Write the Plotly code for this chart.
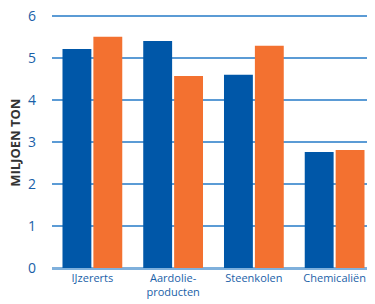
import plotly.graph_objects as go

categories = ["IJzererts", "Aardolie-<br>producten", "Steenkolen", "Chemicaliën"]
series_blue = [5.21, 5.40, 4.60, 2.76]
series_orange = [5.50, 4.57, 5.29, 2.81]
y_ticks = [0, 1, 2, 3, 4, 5, 6]

fig = go.Figure()
fig.add_trace(go.Bar(x=categories, y=series_blue, marker=dict(color="#0057a8", line=dict(width=0)), showlegend=False))
fig.add_trace(go.Bar(x=categories, y=series_orange, marker=dict(color="#f37130", line=dict(width=0)), showlegend=False))

# page body has an 8px default margin, so the figure is sized to fit the window
fig.update_layout(
    width=367, height=296,
    margin=dict(l=44, r=0, t=4, b=36),
    plot_bgcolor="white", paper_bgcolor="white",
    barmode="group", bargap=0.235, bargroupgap=0.065,
    font=dict(family="Open Sans, sans-serif"),
    xaxis=dict(showgrid=False, showline=False, ticks="", tickfont=dict(size=11, color="#1a5fa8"),
               ticklabelstandoff=2, automargin=False),
    yaxis=dict(range=[0, 6.09], tickvals=y_ticks, showgrid=True, gridcolor="#5b9bd5", gridwidth=1.6,
               zeroline=True, zerolinecolor="#7fb0dc", zerolinewidth=2.5, automargin=False,
               ticklabeloverflow="allow",
               tickfont=dict(size=14, color="#1a5fa8"), ticklabelstandoff=15),
    annotations=[dict(text="<b>MILJOEN TON</b>", x=-36.5/323, y=0.487, xref="paper", yref="paper",
                      xanchor="center", yanchor="middle",
                      showarrow=False, textangle=-90, font=dict(size=13, color="#333333"))],
)
fig.write_html("out.html")
